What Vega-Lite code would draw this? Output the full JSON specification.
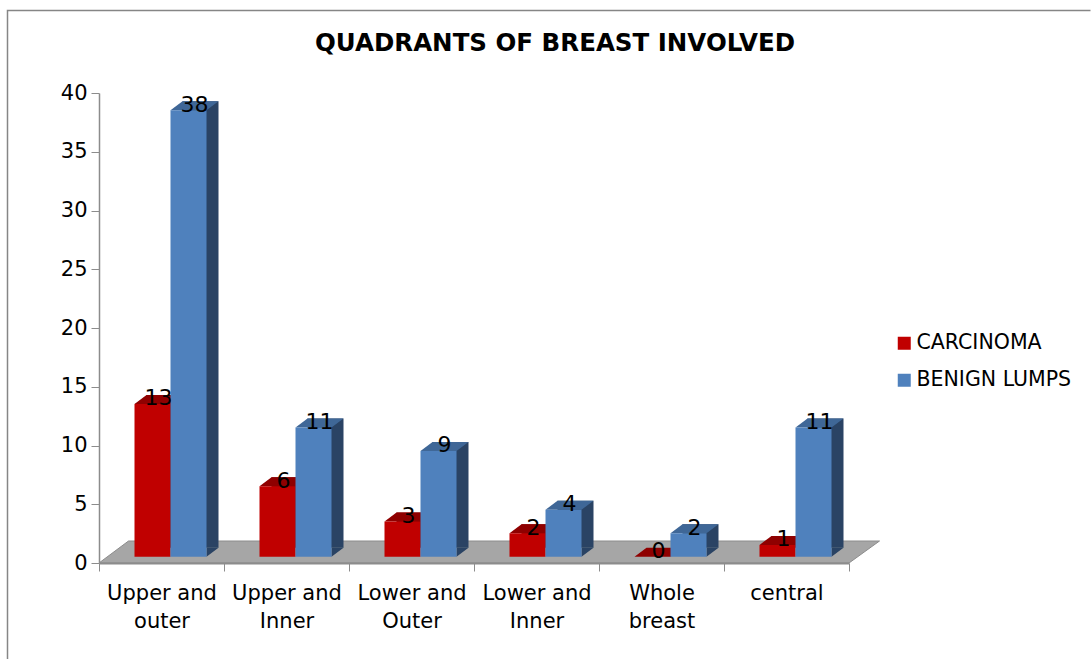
{"$schema":"https://vega.github.io/schema/vega-lite/v6.json","width":750,"height":470,"autosize":{"type":"none"},"padding":{"left":99,"top":93,"right":242,"bottom":96},"background":"white","config":{"view":{"stroke":null},"font":"DejaVu Sans"},"title":{"text":"QUADRANTS OF BREAST INVOLVED","anchor":"middle","frame":"group","dx":81,"offset":0,"dy":68,"baseline":"alphabetic","font":"DejaVu Sans","fontSize":24.5,"fontWeight":"bold","color":"#000000"},"data":{"values":[{"category":"Upper and outer","series":"CARCINOMA","value":13},{"category":"Upper and Inner","series":"CARCINOMA","value":6},{"category":"Lower and Outer","series":"CARCINOMA","value":3},{"category":"Lower and Inner","series":"CARCINOMA","value":2},{"category":"Whole breast","series":"CARCINOMA","value":0},{"category":"central","series":"CARCINOMA","value":1},{"category":"Upper and outer","series":"BENIGN LUMPS","value":38},{"category":"Upper and Inner","series":"BENIGN LUMPS","value":11},{"category":"Lower and Outer","series":"BENIGN LUMPS","value":9},{"category":"Lower and Inner","series":"BENIGN LUMPS","value":4},{"category":"Whole breast","series":"BENIGN LUMPS","value":2},{"category":"central","series":"BENIGN LUMPS","value":11}]},"encoding":{"x":{"field":"category","type":"nominal","sort":null,"scale":{"paddingInner":0,"paddingOuter":0},"axis":{"title":null,"labelAngle":0,"labelFont":"DejaVu Sans","labelFontSize":21,"labelColor":"#000000","labelBaseline":"top","labelAlign":"center","labelPadding":11,"labelLineHeight":28,"labelLimit":200,"labelOverlap":false,"labelExpr":"indexof(datum.label,' and ')>=0 ? [slice(datum.label,0,indexof(datum.label,' and ')+4), slice(datum.label,indexof(datum.label,' and ')+5)] : split(datum.label,' ')","tickSize":8,"tickBand":"extent","tickColor":"#8c8c8c","domainColor":"#8c8c8c","domainWidth":2,"zindex":1}},"y":{"field":"value","type":"quantitative","scale":{"domain":[0,40],"nice":false},"axis":{"title":null,"values":[0,5,10,15,20,25,30,35,40],"grid":false,"labelFont":"DejaVu Sans","labelFontSize":21,"labelColor":"#000000","labelPadding":4,"tickSize":8,"tickColor":"#8c8c8c","domainColor":"#8c8c8c","domainWidth":1.5}}},"layer":[{"transform":[{"filter":"datum.category=='Upper and outer' && datum.series=='CARCINOMA'"}],"mark":{"type":"point","filled":false,"size":4,"opacity":1,"stroke":"#868686","strokeWidth":1.5,"shape":"M-154,96L-154,-552.5L929,-552.5"},"encoding":{"y":{"datum":0,"type":"quantitative"}}},{"transform":[{"filter":"datum.category=='Upper and outer' && datum.series=='CARCINOMA'"}],"mark":{"type":"point","filled":true,"size":4,"opacity":1,"fill":"#A6A6A6","stroke":"#8c8c8c","strokeWidth":1,"shape":"M-62.5,0L-33,-22L718,-22L687.5,0Z"},"encoding":{"y":{"datum":0,"type":"quantitative"}}},{"transform":[{"filter":"datum.series=='CARCINOMA'"}],"mark":{"type":"bar","size":36,"xOffset":3,"yOffset":-15.3,"y2Offset":-15.3,"color":"#7A0000"}},{"transform":[{"filter":"datum.series=='CARCINOMA'"}],"mark":{"type":"point","filled":true,"size":4,"opacity":1,"fill":"#8F0000","strokeWidth":0,"xOffset":-27,"yOffset":-6.3,"shape":"M0,0L36,0L48,-9L12,-9Z"}},{"transform":[{"filter":"datum.series=='CARCINOMA'"}],"mark":{"type":"bar","size":36,"xOffset":-9,"yOffset":-6.3,"y2Offset":-6.3},"encoding":{"color":{"field":"series","type":"nominal","scale":{"domain":["CARCINOMA","BENIGN LUMPS"],"range":["#C00000","#4F81BD"]},"legend":{"title":null,"orient":"none","legendX":795,"legendY":240,"padding":0,"symbolType":"square","symbolSize":169,"symbolStrokeWidth":0,"labelFont":"DejaVu Sans","labelFontSize":20.5,"labelColor":"#000000","labelOffset":2,"rowPadding":16,"labelLimit":200}}}},{"transform":[{"filter":"datum.series=='BENIGN LUMPS'"}],"mark":{"type":"bar","size":36,"xOffset":39,"yOffset":-15.3,"y2Offset":-15.3,"color":"#2A4364"}},{"transform":[{"filter":"datum.series=='BENIGN LUMPS'"}],"mark":{"type":"point","filled":true,"size":4,"opacity":1,"fill":"#2A4364","strokeWidth":0,"xOffset":45,"yOffset":-6.3,"shape":"M0,0L12,-9L0,-9Z"},"encoding":{"y":{"datum":0,"type":"quantitative"}}},{"transform":[{"filter":"datum.series=='BENIGN LUMPS'"}],"mark":{"type":"point","filled":true,"size":4,"opacity":1,"fill":"#3F6797","strokeWidth":0,"xOffset":9,"yOffset":-6.3,"shape":"M0,0L36,0L48,-9L12,-9Z"}},{"transform":[{"filter":"datum.series=='BENIGN LUMPS'"}],"mark":{"type":"bar","size":36,"xOffset":27,"yOffset":-6.3,"y2Offset":-6.3},"encoding":{"color":{"field":"series","type":"nominal","legend":null}}},{"transform":[{"filter":"datum.series=='CARCINOMA'"}],"mark":{"type":"text","xOffset":-3,"yOffset":-5,"align":"center","baseline":"alphabetic","font":"DejaVu Sans","fontSize":22,"color":"#000000"},"encoding":{"text":{"field":"value","type":"quantitative"}}},{"transform":[{"filter":"datum.series=='BENIGN LUMPS'"}],"mark":{"type":"text","xOffset":33,"yOffset":-5,"align":"center","baseline":"alphabetic","font":"DejaVu Sans","fontSize":22,"color":"#000000"},"encoding":{"text":{"field":"value","type":"quantitative"}}}]}
